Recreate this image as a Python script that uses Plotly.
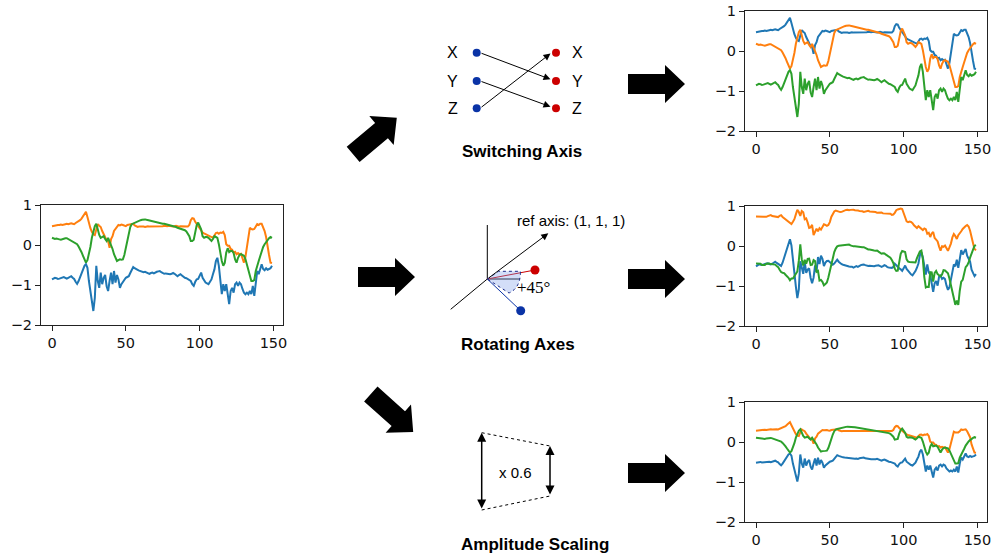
import numpy as np
import plotly.graph_objects as go

# ---------------- data ----------------
t = list(range(150))

orig_blue = [
    -0.86, -0.84, -0.82, -0.83, -0.85, -0.84, -0.83, -0.81, -0.80, -0.82,
    -0.84, -0.82, -0.80, -0.78, -0.82, -0.85, -0.92, -0.97, -0.90, -0.80,
    -0.73, -0.62, -0.52, -0.48, -0.57, -0.90, -1.15, -1.40, -1.65, -1.32,
    -0.52, -0.90, -1.07, -0.69, -0.98, -0.82, -0.75, -1.03, -1.15, -0.90,
    -0.69, -0.98, -0.65, -0.94, -0.75, -0.86, -1.07, -0.98, -0.92, -0.86,
    -0.82, -0.80, -0.78, -0.70, -0.63, -0.55, -0.58, -0.61, -0.62, -0.64,
    -0.65, -0.66, -0.68, -0.67, -0.69, -0.70, -0.72, -0.70, -0.69, -0.71,
    -0.68, -0.67, -0.66, -0.65, -0.68, -0.70, -0.72, -0.71, -0.72, -0.73,
    -0.73, -0.72, -0.70, -0.72, -0.75, -0.78, -0.75, -0.73, -0.76, -0.80,
    -0.82, -0.83, -0.86, -0.88, -0.90, -0.98, -1.02, -0.92, -0.86, -0.85,
    -0.78, -0.69, -0.82, -0.88, -0.94, -0.96, -0.98, -0.92, -0.86, -0.73,
    -0.61, -0.40, -0.32, -0.52, -0.98, -1.23, -0.98, -1.15, -0.98, -1.19,
    -1.48, -1.15, -1.07, -1.19, -0.98, -0.94, -1.02, -0.94, -0.98, -1.10,
    -1.19, -1.23, -1.19, -1.23, -1.15, -1.23, -1.02, -1.27, -0.90, -0.65,
    -0.73, -0.61, -0.48, -0.60, -0.63, -0.58, -0.62, -0.60, -0.58, -0.52,
]

orig_orange = [
    0.47, 0.48, 0.49, 0.49, 0.50, 0.50, 0.51, 0.50, 0.52, 0.52,
    0.53, 0.52, 0.53, 0.54, 0.53, 0.52, 0.55, 0.57, 0.58, 0.62,
    0.66, 0.72, 0.78, 0.83, 0.70, 0.55, 0.42, 0.33, 0.27, 0.25,
    0.40, 0.52, 0.48, 0.45, 0.35, 0.27, 0.18, 0.12, 0.10, -0.07,
    0.15, 0.22, 0.35, 0.40, 0.47, 0.50, 0.49, 0.51, 0.50, 0.48,
    0.47, 0.50, 0.51, 0.52, 0.53, 0.53, 0.49, 0.46, 0.45, 0.46,
    0.46, 0.47, 0.46, 0.45, 0.46, 0.47, 0.46, 0.46, 0.47, 0.46,
    0.46, 0.47, 0.47, 0.46, 0.47, 0.47, 0.48, 0.47, 0.47, 0.48,
    0.47, 0.47, 0.46, 0.47, 0.48, 0.47, 0.46, 0.47, 0.47, 0.46,
    0.47, 0.47, 0.46, 0.50, 0.62, 0.67, 0.66, 0.58, 0.52, 0.47,
    0.43, 0.37, 0.31, 0.29, 0.27, 0.25, 0.22, 0.20, 0.19, 0.18,
    0.24, 0.30, 0.31, 0.28, 0.31, 0.30, 0.33, 0.25, 0.02, -0.02,
    -0.02, -0.10, -0.12, -0.19, -0.17, -0.23, -0.20, -0.23, -0.22, -0.35,
    -0.44, -0.30, -0.07, 0.20, 0.43, 0.40, 0.39, 0.40, 0.45, 0.52,
    0.50, 0.53, 0.53, 0.45, 0.35, 0.20, -0.10, -0.25, -0.44, -0.45,
]

orig_green = [
    0.18, 0.17, 0.15, 0.16, 0.14, 0.14, 0.13, 0.15, 0.16, 0.17,
    0.17, 0.15, 0.13, 0.12, 0.10, 0.08, 0.05, 0.02, -0.04, -0.10,
    -0.18, -0.27, -0.36, -0.44, -0.38, -0.23, -0.05, 0.18, 0.35, 0.47,
    0.53, 0.35, 0.25, 0.18, 0.20, 0.22, 0.15, 0.10, 0.18, 0.10,
    0.02, -0.10, -0.23, -0.33, -0.40, -0.38, -0.36, -0.37, -0.36, -0.25,
    -0.07, 0.15, 0.31, 0.45, 0.52, 0.54, 0.56, 0.57, 0.59, 0.60,
    0.62, 0.63, 0.64, 0.64, 0.63, 0.62, 0.62, 0.61, 0.60, 0.59,
    0.58, 0.57, 0.56, 0.55, 0.54, 0.53, 0.53, 0.52, 0.51, 0.50,
    0.50, 0.49, 0.48, 0.46, 0.45, 0.43, 0.42, 0.41, 0.39, 0.38,
    0.37, 0.34, 0.28, 0.22, 0.10, 0.10, 0.13, 0.35, 0.50, 0.56,
    0.48, 0.39, 0.22, 0.18, 0.20, 0.20, 0.18, 0.14, 0.10, 0.15,
    0.22, 0.20, 0.18, 0.02, -0.23, -0.40, -0.52, -0.45, -0.19, -0.08,
    -0.18, -0.15, -0.15, -0.20, -0.36, -0.44, -0.32, -0.25, -0.23, -0.25,
    -0.27, -0.35, -0.50, -0.65, -0.80, -0.90, -0.90, -0.88, -0.65, -0.50,
    -0.40, -0.28, -0.15, -0.05, 0.02, 0.08, 0.14, 0.17, 0.20, 0.18,
]

x_ticks = [0, 50, 100, 150]
y_ticks = [-2, -1, 0, 1]

SCALE_FACTOR = 0.6          # amplitude scaling shown in the figure
ROT_AXIS = [1, 1, 1]        # reference axis of the rotation
ROT_DEG = -45               # rotation angle (sign per Rodrigues convention)

COLORS = ["#1f77b4", "#ff7f0e", "#2ca02c"]

# ---------------- derived views (transformations shown by the figure) ----------------
V = np.vstack([orig_blue, orig_orange, orig_green])
switched = V[[1, 2, 0]]
k = np.array(ROT_AXIS, float) / np.linalg.norm(ROT_AXIS)
th = np.radians(ROT_DEG)
K = np.array([[0, -k[2], k[1]], [k[2], 0, -k[0]], [-k[1], k[0], 0]])
R = np.cos(th) * np.eye(3) + np.sin(th) * K + (1 - np.cos(th)) * np.outer(k, k)
rotated = R @ V
scaled = SCALE_FACTOR * V

W, H = 992, 556

def dx(a, b):
    return [a / W, b / W]

def dy(top, bottom):
    return [1 - bottom / H, 1 - top / H]

boxes = {
    1: (41, 283, 205, 325, V),
    2: (745, 987, 11, 131, switched),
    3: (745, 987, 206, 326, rotated),
    4: (745, 987, 402, 522, scaled),
}

fig = go.Figure()
layout = dict(
    width=W, height=H, autosize=False,
    margin=dict(l=0, r=0, t=0, b=0, pad=0),
    paper_bgcolor="white", plot_bgcolor="rgba(0,0,0,0)",
    showlegend=False,
)

# overlay pixel-coordinate axes for the diagram parts
layout["xaxis5"] = dict(domain=[0, 1], range=[0, W], visible=False, anchor="y5", fixedrange=True)
layout["yaxis5"] = dict(domain=[0, 1], range=[H, 0], visible=False, anchor="x5", fixedrange=True)

for i, (x0, x1, y0, y1, data) in boxes.items():
    xa = "xaxis" if i == 1 else f"xaxis{i}"
    ya = "yaxis" if i == 1 else f"yaxis{i}"
    xr = "x" if i == 1 else f"x{i}"
    yr = "y" if i == 1 else f"y{i}"
    for s in range(3):
        fig.add_trace(go.Scatter(x=t, y=data[s], mode="lines", xaxis=xr, yaxis=yr,
                                 line=dict(color=COLORS[s], width=2), hoverinfo="skip"))
    common = dict(showline=True, linecolor="#222", linewidth=1, mirror=True,
                  ticks="outside", ticklen=5, tickwidth=1, tickcolor="#222",
                  showgrid=False, zeroline=False, automargin=False,
                  tickfont=dict(family="DejaVu Sans", size=14.5, color="#111"), fixedrange=True)
    layout[xa] = dict(domain=dx(x0, x1), anchor=yr, range=[-7.45, 156.45],
                      tickmode="array", tickvals=x_ticks, **common)
    layout[ya] = dict(domain=dy(y0, y1), anchor=xr, range=[-2, 1],
                      tickmode="array", tickvals=y_ticks, **common)

shapes = []
annotations = []

def block_arrow(cx, cy, ang, L=57, w=20, hw=38, hl=20):
    a = np.radians(ang)
    pts = [(-L / 2, -w / 2), (L / 2 - hl, -w / 2), (L / 2 - hl, -hw / 2), (L / 2, 0),
           (L / 2 - hl, hw / 2), (L / 2 - hl, w / 2), (-L / 2, w / 2)]
    out = []
    for u, v in pts:
        px = cx + u * np.cos(a) - v * np.sin(a)
        py = cy - (u * np.sin(a) + v * np.cos(a))
        out.append(f"{px:.1f},{py:.1f}")
    return "M " + " L ".join(out) + " Z"

for cx, cy, ang in [(375, 136, 40), (386.5, 277, 0), (392, 413, -42),
                    (656.5, 84, 0), (656.5, 279, 0), (656.5, 473, 0)]:
    shapes.append(dict(type="path", xref="x5", yref="y5", path=block_arrow(cx, cy, ang),
                       fillcolor="black", line=dict(width=0)))

def txt(x, y, s, size=15, anchor="center", family="Liberation Sans"):
    annotations.append(dict(x=x, y=y, xref="x5", yref="y5", text=s, showarrow=False,
                            xanchor=anchor, yanchor="middle",
                            font=dict(family=family, size=size, color="black")))

def arr(x0, y0, x1, y1, head=2, side="end", width=1, size=1.0):
    annotations.append(dict(x=x1, y=y1, ax=x0, ay=y0, xref="x5", yref="y5", axref="x5", ayref="y5",
                            text="", showarrow=True, arrowhead=head, arrowside=side,
                            arrowwidth=width, arrowsize=size, arrowcolor="black",
                            startarrowhead=head, startarrowsize=size))

def seg(xs, ys, color="black", width=1, dash="solid"):
    fig.add_trace(go.Scatter(x=xs, y=ys, mode="lines", xaxis="x5", yaxis="y5",
                             line=dict(color=color, width=width, dash=dash), hoverinfo="skip"))

def dots(xs, ys, color, size=8):
    fig.add_trace(go.Scatter(x=xs, y=ys, mode="markers", xaxis="x5", yaxis="y5",
                             marker=dict(color=color, size=size), hoverinfo="skip"))

BLUE_DOT = "#0a33a6"
RED_DOT = "#cc0000"

# ---- Switching Axis diagram ----
rows_y = [52.7, 81, 108.3]
for lab, yy in zip(["X", "Y", "Z"], rows_y):
    txt(452.7, yy, lab, size=16)
    txt(577, yy, lab, size=16)
arr(480, 52.7, 550.5, 79.3, size=1.4)
arr(480, 81, 550.5, 106.7, size=1.4)
arr(480, 108.3, 550.5, 53.5, size=1.4)
dots([476.7] * 3, rows_y, BLUE_DOT)
dots([556] * 3, rows_y, RED_DOT)
txt(522, 151.7, "<b>Switching Axis</b>", size=17)

# ---- Rotating Axes diagram ----
ox, oy = 487.3, 279
shapes.append(dict(type="path", xref="x5", yref="y5",
                   path=f"M {ox},{oy} L 498.5,271.3 L 520.5,271.3 Q 520.5,288 509,293 Z",
                   fillcolor="rgba(130,160,235,0.35)",
                   line=dict(color="#1a2a8a", width=1, dash="dot")))
seg([ox, ox], [oy, 225])
seg([ox, 520], [oy, oy])
seg([450.7, ox], [309.3, oy])
arr(ox, oy, 548.3, 233.3, size=1.4)
seg([ox, 535], [oy, 270], color=RED_DOT, width=1)
seg([ox, 520.7], [oy, 310.7], color=BLUE_DOT, width=1)
dots([535], [270], RED_DOT, size=9)
dots([520.7], [310.7], BLUE_DOT, size=9)
txt(515, 220.7, "ref axis: (1, 1, 1)", size=15, anchor="left")
txt(533.5, 287.5, "+45°", size=17, family="Liberation Serif")
txt(518.3, 344, "<b>Rotating Axes</b>", size=17)

# ---- Amplitude Scaling diagram ----
seg([481.7, 550], [432.7, 446], dash="dot")
seg([481.7, 550], [510, 496], dash="dot")
arr(481.7, 510, 481.7, 432.7, head=2, side="end+start", width=1.5, size=1.2)
arr(550, 496, 550, 446, head=2, side="end+start", width=1.5, size=1.2)
txt(515, 472.7, "x 0.6", size=15)
txt(535.3, 544.3, "<b>Amplitude Scaling</b>", size=17)

layout["shapes"] = shapes
layout["annotations"] = annotations
fig.update_layout(**layout)
fig.write_html("out.html", config={"displayModeBar": False})
